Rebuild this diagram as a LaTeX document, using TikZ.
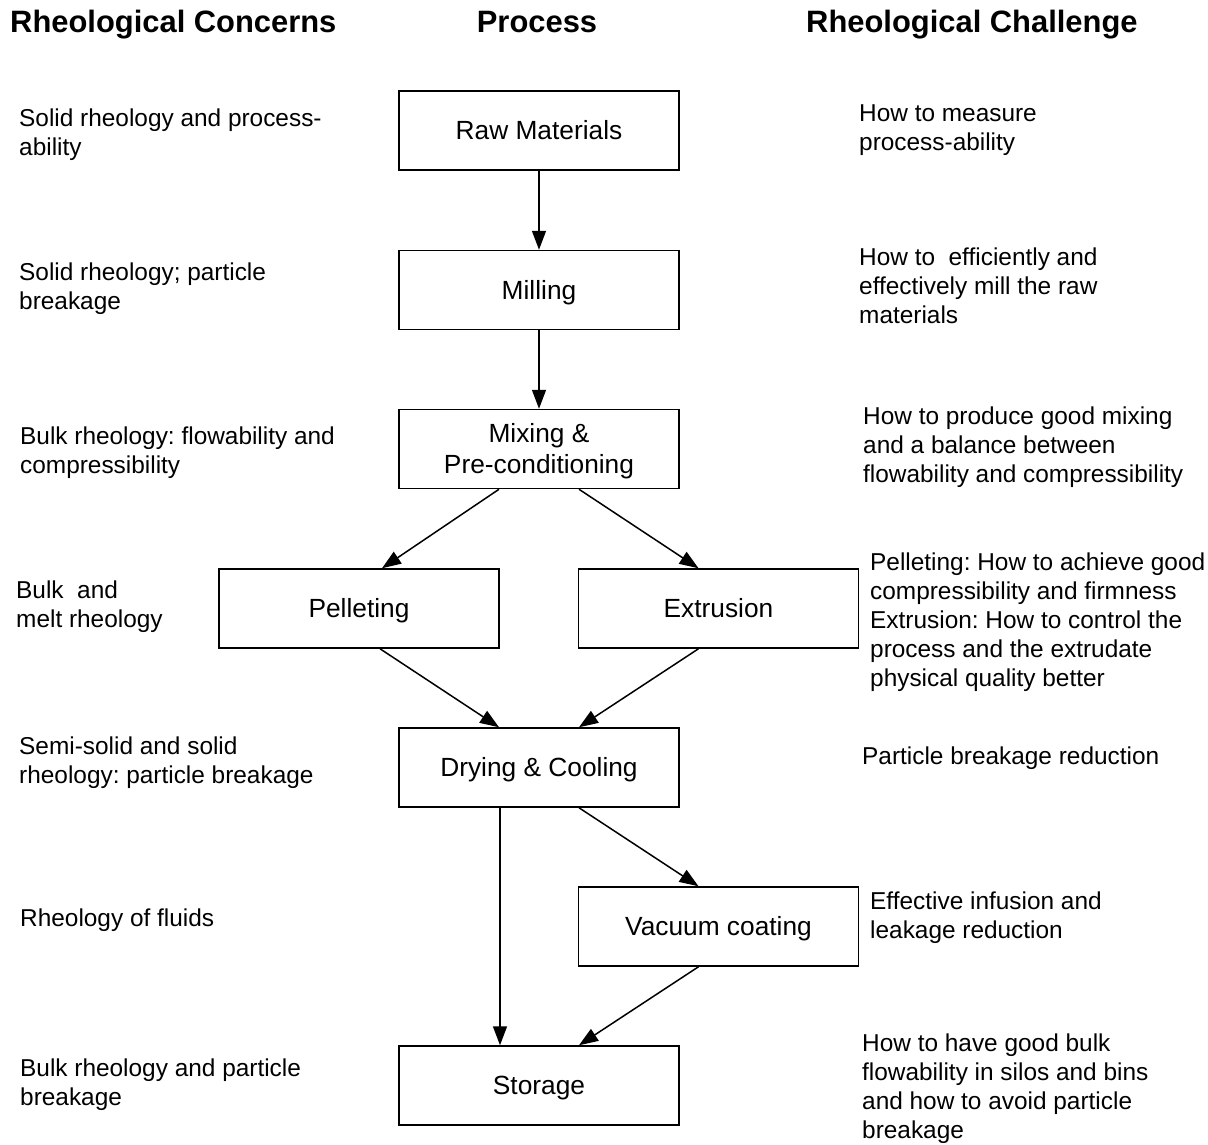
\documentclass[tikz,border=0pt]{standalone}
\usepackage{fontspec}
\setmainfont{Liberation Sans}
\usetikzlibrary{arrows.meta,calc}
\frenchspacing
\begin{document}
\begin{tikzpicture}[x=1pt,y=-1pt,
  box/.style={draw, line width=1.5pt, minimum width=280pt, minimum height=79pt, inner sep=0pt,
    font=\fontsize{26.3}{31}\selectfont, align=center, text height=18.8pt, text depth=0pt},
  side/.style={anchor=base west, inner sep=0pt, align=left, font=\fontsize{24.4}{29}\selectfont},
  head/.style={anchor=base west, inner sep=0pt, font=\fontsize{30.9}{36}\selectfont\bfseries},
  arr/.style={line width=1.5pt, -{Triangle[length=19pt,width=14pt]}}]
\fill[white] (0,0) rectangle (1208,1144);
\useasboundingbox (0,0) rectangle (1208,1144);

% headers
\node[head] (h1) at (10,32) {Rheological Concerns};
\node[head, anchor=base] (h2) at (537,32) {Process};
\node[head] (h3) at (806,32) {Rheological Challenge};

% process boxes
\node[box] (raw) at (539,130.5) {Raw Materials};
\node[box] (mill) at (539,290) {Milling};
\node[box, text height=49.8pt] (mix) at (539,449) {Mixing \&\\Pre-conditioning};
\node[box] (pel) at (359,608.5) {Pelleting};
\node[box] (ext) at (718.5,608.5) {Extrusion};
\node[box] (dry) at (539,767.5) {Drying \& Cooling};
\node[box] (vac) at (718.5,926.5) {Vacuum coating};
\node[box] (st) at (539,1085.5) {Storage};

% connectors
\draw[arr] (raw) -- (mill);
\draw[arr] (mill) -- (mix);
\draw[arr] ([xshift=-40pt]mix.south) -- ([xshift=23pt]pel.north);
\draw[arr] ([xshift=40pt]mix.south) -- ([xshift=-20pt]ext.north);
\draw[arr] ([xshift=21pt]pel.south) -- ([xshift=-40pt]dry.north);
\draw[arr] ([xshift=-20pt]ext.south) -- ([xshift=40pt]dry.north);
\draw[arr] ([xshift=40pt]dry.south) -- ([xshift=-20pt]vac.north);
\draw[arr] ([xshift=-39pt]dry.south) -- ([xshift=-39pt]st.north);
\draw[arr] ([xshift=-20pt]vac.south) -- ([xshift=40pt]st.north);

% left column: concerns (anchor = baseline of last line)
\node[side] (c1) at (19,155) {Solid rheology and process-\\ability};
\node[side] (c2) at (19,309) {Solid rheology; particle\\breakage};
\node[side] (c3) at (20,473) {Bulk rheology: flowability and\\compressibility};
\node[side] (c4) at (16,627) {Bulk\ \ and\\melt rheology};
\node[side] (c5) at (19,783) {Semi-solid and solid\\rheology: particle breakage};
\node[side] (c6) at (20,926) {Rheology of fluids};
\node[side] (c7) at (20,1105) {Bulk rheology and particle\\breakage};

% right column: challenges (anchor = baseline of last line)
\node[side] (r1) at (859,150.5) {How to measure\\process-ability};
\node[side] (r2) at (859,323) {How to\ \ efficiently and\\effectively mill the raw\\materials};
\node[side] (r3) at (863,482.5) {How to produce good mixing\\and a balance between\\flowability and compressibility};
\node[side] (r4) at (870,686) {Pelleting: How to achieve good\\compressibility and firmness\\Extrusion: How to control the\\process and the extrudate\\physical quality better};
\node[side] (r5) at (862,764.5) {Particle breakage reduction};
\node[side] (r6) at (870,938.5) {Effective infusion and\\leakage reduction};
\node[side] (r7) at (862,1138.5) {How to have good bulk\\flowability in silos and bins\\and how to avoid particle\\breakage};
\end{tikzpicture}
\end{document}
